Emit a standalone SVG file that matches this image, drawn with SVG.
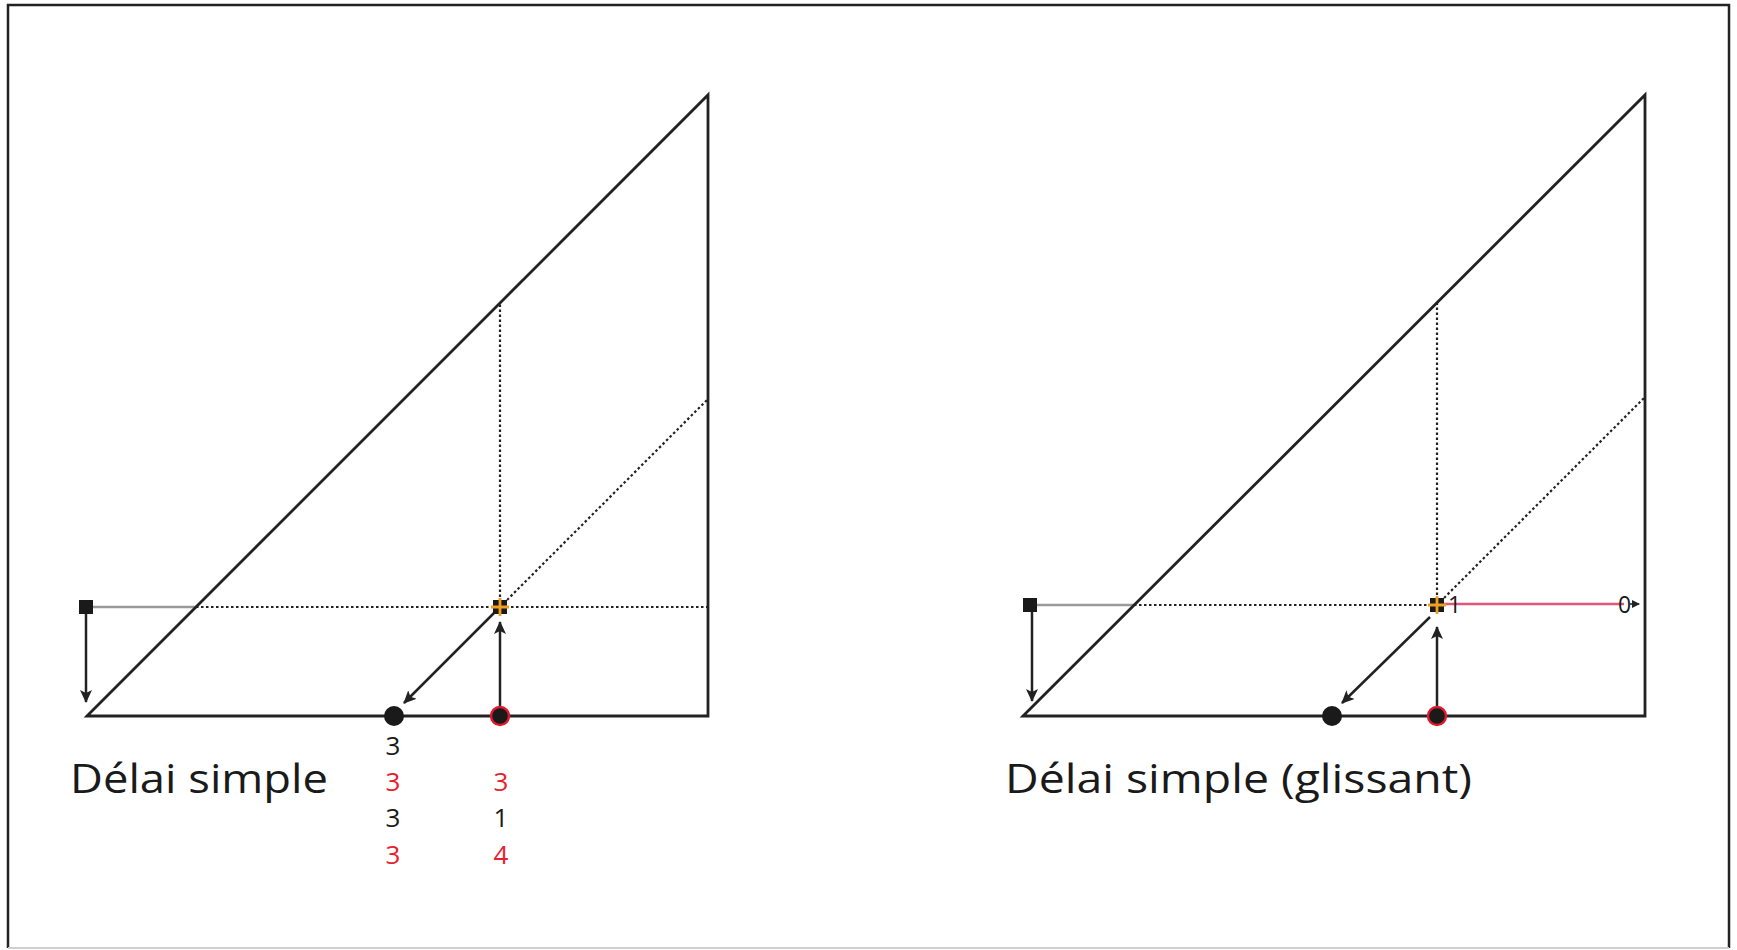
<svg xmlns="http://www.w3.org/2000/svg" width="1737" height="950" viewBox="0 0 1737 950">
  <style>
    .solid { fill: none; stroke: #222; stroke-width: 2.8; }
    .gray { fill: none; stroke: #9a9a9a; stroke-width: 2.4; }
    .dot { fill: none; stroke: #222; stroke-width: 2.2; stroke-dasharray: 2.5 2.5; }
    .arrow { fill: none; stroke: #222; stroke-width: 2.5; marker-end: url(#ah); }
    .pink { fill: none; stroke: #e2567a; stroke-width: 2.6; }
    .lbl { font-family: "Open Sans", "Liberation Sans", sans-serif; fill: #1a1a1a; }
    .num { font-family: "Open Sans", "Liberation Sans", sans-serif; font-size: 26px; text-anchor: middle; fill: #1a1a1a; }
    .red { fill: #e8202e; }
    .bdot { fill: #1a1a1a; }
    .rdot { fill: #1a1a1a; stroke: #e0182d; stroke-width: 2.4; }
    .cross { fill: none; stroke: #f0a020; stroke-width: 2.8; }
  </style>
  <defs>
    <marker id="ah" markerWidth="14" markerHeight="12" refX="12" refY="6" orient="auto" markerUnits="userSpaceOnUse">
      <path d="M0,0 L13,6 L0,12 L3,6 Z" fill="#222"/>
    </marker>
    <marker id="ahs" markerWidth="8" markerHeight="8" refX="7" refY="4" orient="auto" markerUnits="userSpaceOnUse">
      <path d="M0,0 L8,4 L0,8 Z" fill="#222"/>
    </marker>
  </defs>
  <rect x="0" y="0" width="1737" height="950" fill="#ffffff"/>
  <g id="frame">
    <path d="M8,948 L8,5 L1729,5 L1729,948" fill="none" stroke="#222" stroke-width="2.5"/>
    <path d="M8,948 L1729,948" fill="none" stroke="#cfcfcf" stroke-width="2"/>
  </g>

  <g id="connectors">
    <!-- left panel -->
    <path class="gray" d="M93,607 L196,607"/>
    <path class="dot" d="M196,607 L708,607"/>
    <path class="dot" d="M500,607 L500,304"/>
    <path class="dot" d="M500,607 L708,399"/>
    <path class="arrow" d="M86,614 L86,702"/>
    <path class="arrow" d="M494,613 L404,703"/>
    <path class="arrow" d="M500,706 L500,622"/>
    <!-- right panel -->
    <path class="gray" d="M1037,605 L1134,605"/>
    <path class="dot" d="M1134,605 L1437,605"/>
    <path class="dot" d="M1437,605 L1437,302"/>
    <path class="dot" d="M1437,605 L1645,397"/>
    <path class="pink" d="M1444,604 L1624,604"/>
    <path d="M1630,604 L1639,604" fill="none" stroke="#222" stroke-width="1.5" marker-end="url(#ahs)"/>
    <path class="arrow" d="M1032,612 L1032,701"/>
    <path class="arrow" d="M1430,617 L1342,703"/>
    <path class="arrow" d="M1437,706 L1437,627"/>
  </g>

  <g id="left-triangle">
    <path class="solid" d="M87,716 L708,95 L708,716 Z"/>
  </g>
  <g id="left-square">
    <rect x="79" y="600" width="14" height="14" fill="#1a1a1a"/>
  </g>
  <g id="left-cross">
    <rect x="493" y="600" width="14" height="14" fill="#1a1a1a"/>
    <path class="cross" d="M500,598 L500,616 M491,607 L509,607"/>
  </g>
  <g id="left-black-dot">
    <circle class="bdot" cx="394" cy="716" r="10"/>
  </g>
  <g id="left-red-dot">
    <circle class="rdot" cx="500" cy="716" r="9"/>
  </g>
  <g id="left-label">
    <text class="lbl" x="70" y="793" font-size="40" textLength="258" lengthAdjust="spacingAndGlyphs">Délai simple</text>
  </g>
  <g id="left-numbers">
    <text class="num" x="393" y="755">3</text>
    <text class="num red" x="393" y="791">3</text>
    <text class="num" x="393" y="827">3</text>
    <text class="num red" x="393" y="864">3</text>
    <text class="num red" x="501" y="791">3</text>
    <text class="num" x="501" y="827">1</text>
    <text class="num red" x="501" y="864">4</text>
  </g>

  <g id="right-triangle">
    <path class="solid" d="M1023,716 L1645,95 L1645,716 Z"/>
  </g>
  <g id="right-square">
    <rect x="1023" y="598" width="14" height="14" fill="#1a1a1a"/>
  </g>
  <g id="right-cross">
    <rect x="1430" y="598" width="14" height="14" fill="#1a1a1a"/>
    <path class="cross" d="M1437,596 L1437,614 M1428,605 L1446,605"/>
  </g>
  <g id="right-black-dot">
    <circle class="bdot" cx="1332" cy="716" r="10"/>
  </g>
  <g id="right-red-dot">
    <circle class="rdot" cx="1437" cy="716" r="9"/>
  </g>
  <g id="right-values">
    <text class="lbl" x="1448" y="613" font-size="23">1</text>
    <text class="lbl" x="1618" y="613" font-size="23">0</text>
  </g>
  <g id="right-label">
    <text class="lbl" x="1005" y="793" font-size="40" textLength="467" lengthAdjust="spacingAndGlyphs">Délai simple (glissant)</text>
  </g>
</svg>
